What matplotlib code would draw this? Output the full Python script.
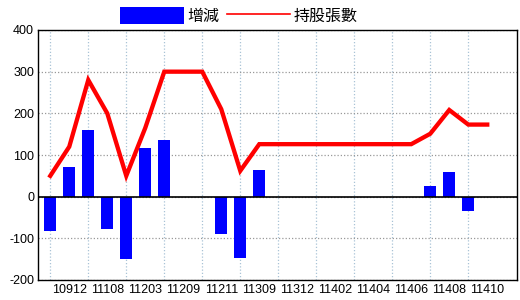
import numpy as np
import matplotlib
matplotlib.use("Agg")
import matplotlib.pyplot as plt
from matplotlib.patches import Patch
from matplotlib.lines import Line2D

# ---- data -------------------------------------------------------------------
tick_labels = ["10912", "11108", "11203", "11209", "11211", "11309",
               "11312", "11402", "11404", "11406", "11408", "11410"]
change  = [-82, 72, 160, -78, -150, 117, 137, 0, 0, -89, -148, 64,
           0, 0, 0, 0, 0, 0, 0, 0, 26, 59, -34, 0]
holding = [50, 120, 280, 200, 50, 165, 300, 300, 300, 210, 62, 126,
           126, 126, 126, 126, 126, 126, 126, 126, 151, 208, 173, 173]
yticks  = [-200, -100, 0, 100, 200, 300, 400]

# ---- style ------------------------------------------------------------------
plt.rcParams.update({
    "font.family": ["Liberation Sans Narrow", "Liberation Sans", "DejaVu Sans"],
    "font.size": 9,
    "axes.unicode_minus": False,
})
CJK = ["Noto Sans CJK TC", "DejaVu Sans"]

x = np.arange(len(change))

fig = plt.figure(figsize=(5.2, 3.0), dpi=100)
ax = fig.add_axes([38.3 / 520, 1 - 280 / 300, (516.7 - 38.3) / 520, 250 / 300])

ax.bar(x, change, 0.63, color="#0000ff", zorder=3)
ax.plot(x, holding, color="#ff0000", lw=3.1, solid_joinstyle="miter", zorder=4)
ax.axhline(0, color="black", lw=1.2, zorder=3.5)

ax.set_xlim(-0.63, 24.55)
ax.set_ylim(-200, 400)
ax.set_yticks(yticks)
ax.set_xticks(x[1::2])
ax.set_xticklabels(tick_labels)
ax.set_xticks(x[0::2][:12], minor=True)
ax.tick_params(which="both", length=0, pad=3, labelsize=9)

ax.grid(axis="y", color="#999999", lw=0.9, ls=(0, (1, 1.6)), zorder=0)
ax.grid(axis="x", which="minor", color="#a9c3d6", lw=0.9, ls=(0, (1, 1.6)), zorder=0)
ax.set_axisbelow(True)
for sp in ax.spines.values():
    sp.set_color("black")
    sp.set_linewidth(1.0)

handles = [Patch(fc="#0000ff", ec="none", label="增減"),
           Line2D([], [], color="#ff0000", lw=1.2, label="持股張數")]
fig.legend(handles=handles, loc="center", bbox_to_anchor=(239 / 520, 1 - 16 / 300),
           ncol=2, frameon=False, prop={"family": CJK, "size": 11.5},
           handlelength=4.0, handleheight=1.3, handletextpad=0.2,
           columnspacing=0.45, borderpad=0, borderaxespad=0)

fig.savefig("out.png", dpi=100)
